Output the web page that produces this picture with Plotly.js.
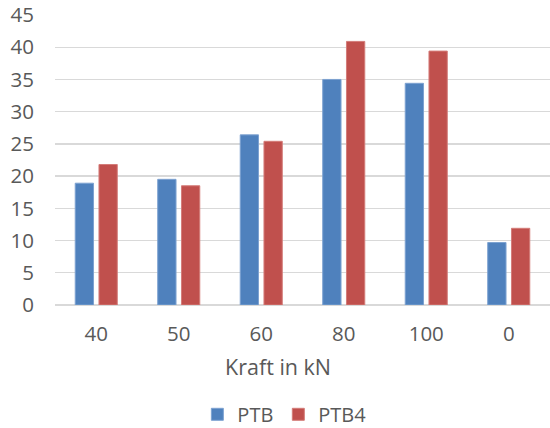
<!DOCTYPE html>
<html>
<head>
<meta charset="utf-8">
<script src="https://cdn.plot.ly/plotly-3.0.1.min.js"></script>
<style>html,body{margin:0;padding:0;background:#fff;}#chart{width:550px;height:428px;}</style>
</head>
<body>
<div id="chart"></div>
<script>
const categories = ["40", "50", "60", "80", "100", "0"];
const ptb = [18.9, 19.5, 26.4, 35.0, 34.4, 9.7];
const ptb4 = [21.8, 18.5, 25.4, 40.9, 39.4, 11.9];
const seriesNames = ["PTB", "PTB4"];
const yTicks = [0, 5, 10, 15, 20, 25, 30, 35, 40, 45];
const xTitle = "Kraft in kN";

const font = {family: "Open Sans, sans-serif", size: 20.5, color: "#595959"};
const legendFont = {family: "Open Sans, sans-serif", size: 20, color: "#595959"};
const titleFont = {family: "Open Sans, sans-serif", size: 21.5, color: "#595959"};

const traces = [
  {type: "bar", name: seriesNames[0], x: categories, y: ptb,
   marker: {color: "#4F81BD", line: {color: "#7DA2D1", width: 1}}, hoverinfo: "none"},
  {type: "bar", name: seriesNames[1], x: categories, y: ptb4,
   marker: {color: "#C0504D", line: {color: "#D47C79", width: 1}}, hoverinfo: "none"}
];

const layout = {
  width: 550, height: 428,
  margin: {l: 55, r: 0, t: 15, b: 123},
  paper_bgcolor: "#fff", plot_bgcolor: "#fff",
  font: font,
  barmode: "group",
  bargap: 0.424,
  bargroupgap: 0.23,
  showlegend: true,
  legend: {orientation: "h", xref: "container", yref: "container", x: 0.517, xanchor: "center",
           y: 0.032, yanchor: "middle", font: legendFont, itemwidth: 30, traceorder: "normal"},
  xaxis: {type: "category", categoryorder: "array", categoryarray: categories,
          showgrid: false, showline: false, zeroline: false, ticks: "",
          tickfont: font, ticklabelstandoff: 14},
  yaxis: {range: [0, 45], tickvals: yTicks, showgrid: true, gridcolor: "#D9D9D9", gridwidth: 1.3,
          zeroline: true, zerolinecolor: "#D9D9D9", zerolinewidth: 1.3, showline: false,
          ticks: "", tickfont: font, ticklabelstandoff: 20},
  annotations: [{text: xTitle, xref: "paper", yref: "paper", x: (278 - 55) / 495, y: -0.213,
                 xanchor: "center", yanchor: "middle", showarrow: false, font: titleFont}]
};

Plotly.newPlot("chart", traces, layout, {staticPlot: true, displayModeBar: false});
</script>
</body>
</html>
